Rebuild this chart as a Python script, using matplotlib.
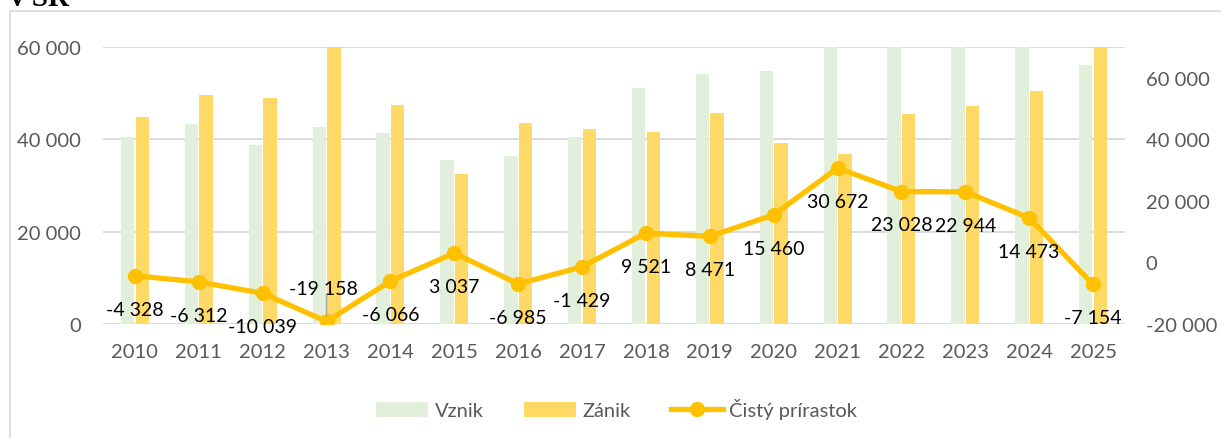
import matplotlib
matplotlib.use('Agg')
import matplotlib.pyplot as plt
from matplotlib.patches import Rectangle
import numpy as np

years = [str(y) for y in range(2010, 2026)]
vznik = [40500, 43300, 38800, 42700, 41400, 35500, 36400, 40500,
         51100, 54200, 54800, 67500, 68500, 70100, 65000, 56100]
zanik = [44800, 49600, 48900, 61800, 47400, 32500, 43500, 42200,
         41600, 45700, 39200, 36800, 45500, 47200, 50500, 63250]
prirastok = [-4328, -6312, -10039, -19158, -6066, 3037, -6985, -1429,
             9521, 8471, 15460, 30672, 23028, 22944, 14473, -7154]
left_ticks = [0, 20000, 40000, 60000]
right_ticks = [-20000, 0, 20000, 40000, 60000]

plt.rcParams['font.family'] = ['Lato', 'DejaVu Sans']

W, H = 1221, 439
fig = plt.figure(figsize=(W / 100, H / 100), dpi=100)

# outer frame of the chart object (partly cut off)
fig.patches.append(Rectangle((10 / W, -0.1), 1.2, (H - 12) / H + 0.1,
                             transform=fig.transFigure, fill=False,
                             edgecolor='#D9D9D9', lw=1.2))
fig.text(10 / W, (H - 6) / H, 'v SR', family='Liberation Serif',
         fontweight='bold', fontsize=21, color='black', va='baseline')

ax = fig.add_axes([103 / W, (H - 325) / H, 1022 / W, 277 / H])
x = np.arange(len(years))
bw = 0.21
ax.bar(x - 0.115, vznik, bw, color='#E2EFDA', label='Vznik', zorder=2)
ax.bar(x + 0.115, zanik, bw, color='#FFD966', label='Zánik', zorder=2)
ax.set_ylim(0, 60000)
ax.set_xlim(-0.5, len(years) - 0.5)
ax.set_yticks(left_ticks)
ax.set_yticklabels([f'{v:,}'.replace(',', ' ') for v in left_ticks])
ax.set_xticks(x)
ax.set_xticklabels(years)
ax.grid(axis='y', color='#D9D9D9', lw=1.3, zorder=0)
ax.set_axisbelow(True)
for s in ax.spines.values():
    s.set_visible(False)
ax.tick_params(axis='y', length=0, pad=16, labelsize=14.5, labelcolor='#595959')
ax.tick_params(axis='x', length=0, pad=14, labelsize=14.5, labelcolor='#595959')

ax2 = ax.twinx()
ax2.plot(x, prirastok, color='#FFC000', lw=3.8, marker='o', markersize=10,
         label='Čistý prírastok', zorder=3)
ax2.set_ylim(-20000, 70000)
ax2.set_yticks(right_ticks)
ax2.set_yticklabels([f'{v:,}'.replace(',', ' ') for v in right_ticks])
for s in ax2.spines.values():
    s.set_visible(False)
ax2.tick_params(axis='y', length=0, pad=15, labelsize=14.5, labelcolor='#595959')

for i, v in enumerate(prirastok):
    lab = f'{v:,}'.replace(',', ' ')
    if years[i] == '2013':
        ax2.annotate(lab, (i, v), xytext=(-2, 24), textcoords='offset points',
                     ha='center', va='center', fontsize=14, color='black')
        ax2.annotate('', (i, v), xytext=(i, v + 9000),
                     arrowprops=dict(arrowstyle='-', color='#A6A6A6', lw=1,
                                     shrinkA=0, shrinkB=4))
    else:
        ax2.annotate(lab, (i, v), xytext=(0, -24), textcoords='offset points',
                     ha='center', va='center', fontsize=14, color='black')

h1, l1 = ax.get_legend_handles_labels()
h2, l2 = ax2.get_legend_handles_labels()
leg = fig.legend(h1 + h2, l1 + l2, loc='center', bbox_to_anchor=(0.505, (H - 410) / H),
                 ncol=3, frameon=False, fontsize=14.5, handlelength=2.6,
                 handleheight=0.8, columnspacing=2.0, handletextpad=0.3)
for t in leg.get_texts():
    t.set_color('#595959')

fig.savefig('out.png', dpi=100)
